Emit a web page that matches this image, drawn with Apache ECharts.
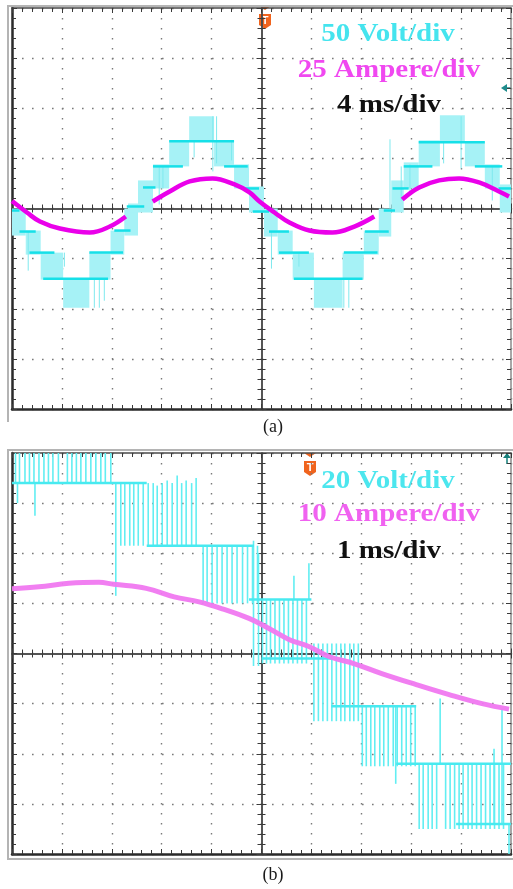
<!DOCTYPE html>
<html>
<head>
<meta charset="utf-8">
<script src="https://cdn.jsdelivr.net/npm/echarts@6/dist/echarts.min.js"></script>
<style>
  html, body { margin: 0; padding: 0; background: #fff; width: 513px; height: 889px; overflow: hidden; }
  #pa { position: absolute; left: 0; top: 0; width: 513px; height: 445px; }
  #pb { position: absolute; left: 0; top: 445px; width: 513px; height: 444px; }
</style>
</head>
<body>
<div id="pa"></div>
<div id="pb"></div>
<script>
// ===== Panel (a): 50 V/div, 25 A/div, 4 ms/div — time in ms, centred on the trigger =====
const axisA = { t: [-20, 20, 4], v: [-200, 200, 50], a: [-100, 100, 25] };
const labelsA = ['50 Volt/div', '25 Ampere/div', '4 ms/div'];

// PWM regions between adjacent voltage levels: [t0, t1, vLow, vHigh]
const bandsA = [
  [-20.0, -18.9, -27, 0], [-18.9, -17.7, -46, -22], [-17.7, -15.9, -71, -44], [-15.9, -13.8, -99, -70],
  [-13.8, -12.1, -71, -44], [-12.1, -11.0, -46, -22], [-11.0, -9.9, -27, 0],
  [-10.7, -9.9, -4, 5],
  [-9.9, -8.7, -4, 28], [-8.7, -7.4, 20, 44], [-7.4, -5.8, 42, 68], [-5.8, -3.8, 67, 92],
  [-3.8, -2.2, 42, 67], [-2.2, -1.0, 20, 44], [-1.0, 0.2, -4, 22],
  [0.2, 1.3, -28, 0], [1.3, 2.5, -46, -22], [2.5, 4.2, -71, -44], [4.2, 6.5, -99, -70],
  [6.5, 8.2, -71, -44], [8.2, 9.4, -46, -22], [9.4, 10.4, -28, 0],
  [10.4, 11.4, -4, 28], [11.4, 12.6, 20, 46], [12.6, 14.3, 42, 68], [14.3, 16.3, 67, 93],
  [16.3, 17.9, 42, 67], [17.9, 19.1, 20, 44], [19.1, 20.0, -4, 24]
];
// Dominant voltage levels: [t0, t1, v]
const levelsA = [
  [-20.0, -19.4, -2], [-19.4, -18.1, -23], [-18.6, -16.6, -44], [-17.5, -12.3, -70],
  [-13.8, -11.1, -44], [-11.8, -10.5, -22], [-10.8, -9.4, 2], [-9.5, -8.5, 21],
  [-8.7, -6.3, 42], [-7.4, -2.2, 67], [-3.0, -1.1, 42], [-1.6, -0.2, 20],
  [-0.7, 0.6, -3], [0.6, 2.2, -23], [1.4, 3.8, -44], [2.6, 8.1, -70],
  [6.6, 9.3, -44], [8.3, 10.2, -23], [9.8, 10.7, -2], [10.5, 11.8, 20],
  [11.4, 13.7, 42], [12.6, 17.9, 66], [17.1, 19.3, 42], [19.0, 20.0, 20]
];
// Isolated switching spikes: [t, vFrom, vTo]
const spikesA = [
  [-18.7, -23, -62], [-15.8, -44, -58], [-13.4, -70, -99], [-13.0, -70, -99], [-12.6, -70, -92],
  [-8.2, 42, 4], [-7.9, 42, 20], [-5.4, 67, 51], [-3.9, 92, 37], [-3.6, 92, 45], [-2.4, 67, 48],
  [0.8, -23, -60], [3.0, -44, -58], [6.6, -70, -99], [7.0, -70, -99],
  [10.3, 0, 69], [11.2, 42, 8], [11.9, 44, 14], [14.6, 67, 45], [16.0, 92, 40], [18.5, 42, 8]
];
// Load current [t, A]; null marks where the trace is hidden
const currentA = [
  [-20.0, 3.7], [-18.8, -2], [-17.76, -6.5], [-16.16, -10], [-13.76, -12], [-12.16, -9], [-10.88, -4],
  [-9.8, null],
  [-8.72, 3.5], [-7.36, 8.5], [-5.76, 13.5], [-3.92, 15], [-2.16, 12], [-0.96, 8], [-0.16, 3.5],
  [1.04, -2], [2.24, -7], [3.84, -11], [5.68, -12], [7.44, -9], [9.04, -4],
  [10.2, null],
  [11.28, 4.5], [12.64, 10.5], [14.24, 14], [15.84, 15], [17.44, 13], [19.04, 8.5], [19.84, 6]
];

// ===== Panel (b): 20 V/div, 10 A/div, 1 ms/div =====
const axisB = { t: [-5, 5, 1], v: [-80, 80, 20], a: [-40, 40, 10] };
const labelsB = ['20 Volt/div', '10 Ampere/div', '1 ms/div'];

const levelsB = [
  [-5.0, -2.3, 68], [-2.3, -0.15, 43], [-0.25, 1.0, 21.5], [0.0, 1.4, -2],
  [1.4, 3.1, -21], [2.7, 5.0, -44], [3.9, 5.0, -68]
];
const spikesB = [
  // 68 V level, pulses reaching the top edge
  [-4.93, 68, 80], [-4.85, 68, 80], [-4.74, 68, 80], [-4.65, 68, 80], [-4.56, 68, 80],
  [-4.46, 68, 80], [-4.36, 68, 80], [-4.27, 68, 80], [-4.18, 68, 80], [-4.07, 68, 80],
  [-3.89, 68, 80], [-3.80, 68, 80], [-3.71, 68, 80], [-3.62, 68, 80], [-3.52, 68, 80],
  [-3.42, 68, 80], [-3.32, 68, 80], [-3.22, 68, 80], [-3.13, 68, 80], [-3.02, 68, 80],
  [-4.89, 68, 60], [-4.54, 68, 55],
  // 68 V -> 43 V
  [-2.92, 68, 23], [-2.82, 68, 43], [-2.74, 68, 43], [-2.64, 68, 43], [-2.56, 68, 43], [-2.47, 68, 43], [-2.37, 68, 43],
  // 43 V -> 68 V
  [-2.27, 43, 68], [-2.17, 43, 68], [-2.09, 43, 67], [-1.99, 43, 68], [-1.89, 43, 69], [-1.79, 43, 68],
  [-1.69, 43, 71], [-1.60, 43, 68], [-1.51, 43, 69], [-1.40, 43, 68], [-1.31, 43, 70],
  // 43 V -> 20 V
  [-1.17, 43, 20], [-1.09, 43, 20], [-0.99, 43, 20], [-0.89, 43, 20], [-0.79, 43, 20], [-0.69, 43, 20],
  [-0.59, 43, 20], [-0.49, 43, 20], [-0.38, 43, 20], [-0.28, 43, 20], [-0.18, 43, 20], [-0.08, 43, 20],
  [-0.16, 45, -5], [-0.06, 40, -5],
  // 21.5 V -> 0 V
  [0.02, 21.5, -4], [0.10, 21.5, -4], [0.18, 21.5, -4], [0.27, 21.5, -4], [0.36, 21.5, -4], [0.45, 21.5, -4],
  [0.54, 21.5, -4], [0.63, 21.5, -4], [0.72, 21.5, -4], [0.81, 21.5, -4], [0.90, 21.5, -4],
  [0.65, 21.5, 31], [0.95, 21.5, 36],
  // 0 V -> -21 V
  [1.05, 4, -27], [1.14, 4, -27], [1.23, 4, -27], [1.32, 4, -27], [1.41, 4, -27], [1.50, 4, -27],
  [1.59, 4, -27], [1.67, 4, -27], [1.77, 4, -27], [1.85, 4, -27], [1.94, 4, -27],
  // -21 V -> -44 V
  [2.02, -21, -45], [2.10, -21, -45], [2.19, -21, -45], [2.27, -21, -45], [2.37, -21, -45], [2.45, -21, -45],
  [2.54, -21, -45], [2.64, -21, -45], [2.72, -21, -45], [2.81, -21, -45], [2.90, -21, -45], [2.99, -21, -45],
  [3.08, -21, -45], [2.69, -21, -52],
  // -44 V -> -68 V
  [3.16, -44, -70], [3.24, -44, -70], [3.34, -44, -70], [3.42, -44, -70], [3.51, -44, -70], [3.69, -44, -70],
  [3.78, -44, -70], [3.87, -44, -70], [3.96, -44, -70], [4.04, -44, -70], [4.14, -44, -70], [4.22, -44, -70],
  [4.31, -44, -70], [4.40, -44, -70], [4.49, -44, -70], [4.58, -44, -70], [4.67, -44, -70], [4.76, -44, -70],
  [4.85, -44, -70],
  [3.58, -44, -18], [4.66, -68, -38], [4.82, -68, -22], [4.96, -68, -80]
];
const currentB = [
  [-5.0, 12.9], [-4.46, 13.3], [-3.86, 14.0], [-3.26, 14.2], [-2.96, 13.8], [-2.31, 13.0],
  [-1.75, 11.3], [-1.25, 10.3], [-0.75, 8.8], [-0.25, 7.0], [0.15, 5.0], [0.55, 2.8],
  [0.95, 1.4], [1.35, -0.6], [1.85, -2.0], [2.41, -4.0], [3.10, -6.2], [3.76, -8.2],
  [4.42, -10.0], [4.96, -11.1]
];

// ---------- drawing helpers ----------
function bandRender(fill) {
  return function (params, api) {
    const p0 = api.coord([api.value(0), api.value(3)]);
    const p1 = api.coord([api.value(1), api.value(2)]);
    return { type: 'rect', shape: { x: p0[0], y: p0[1], width: p1[0] - p0[0], height: p1[1] - p0[1] },
             style: { fill: fill } };
  };
}
function levelRender(stroke, width) {
  return function (params, api) {
    const p0 = api.coord([api.value(0), api.value(2)]);
    const p1 = api.coord([api.value(1), api.value(2)]);
    return { type: 'line', shape: { x1: p0[0], y1: p0[1], x2: p1[0], y2: p1[1] },
             style: { stroke: stroke, lineWidth: width } };
  };
}
function spikeRender(stroke, width) {
  return function (params, api) {
    const p0 = api.coord([api.value(0), api.value(1)]);
    const p1 = api.coord([api.value(0), api.value(2)]);
    return { type: 'line', shape: { x1: p0[0], y1: p0[1], x2: p1[0], y2: p1[1] },
             style: { stroke: stroke, lineWidth: width } };
  };
}

function textItem(str, x, y, color) {
  return { type: 'text', x: x, y: y, scaleX: 1.16, silent: true, z: 20,
    style: { text: str, x: 0, y: 0, fill: color, align: 'center', verticalAlign: 'middle',
             font: 'bold 25px "Liberation Serif", "Times New Roman", serif' } };
}
function trigMarker(cx, top) {
  return { type: 'group', x: cx, y: top, silent: true, z: 20, children: [
    { type: 'polygon', shape: { points: [[-6, 0], [6, 0], [0, 4]] }, style: { fill: '#f0641e' } },
    { type: 'polygon', shape: { points: [[-6, 8], [6, 8], [6, 19], [0, 23], [-6, 19]] }, style: { fill: '#f0641e' } },
    { type: 'text', style: { text: 'T', x: 0, y: 15, fill: '#fff', align: 'center', verticalAlign: 'middle',
      font: 'bold 11px "Liberation Sans", sans-serif' } }
  ] };
}

function frameAxis(range, position, onZero, showSplit, lineColor, lineWidth, tickLen) {
  const ax = {
    type: 'value', min: range[0], max: range[1], interval: range[2], position: position,
    axisLabel: { show: false },
    axisLine: { show: true, onZero: onZero, lineStyle: { color: lineColor, width: lineWidth } },
    axisTick: { show: true, inside: true, length: tickLen, lineStyle: { color: '#3a3a3a', width: 1 } },
    minorTick: { show: true, splitNumber: 5, length: tickLen - 1, lineStyle: { color: '#3a3a3a', width: 1 } },
    splitLine: { show: showSplit, lineStyle: { color: '#7a7a7a', width: 1.4, type: [1.6, 8.4] } }
  };
  if (onZero) ax.axisLine.onZeroAxisIndex = 0;
  return ax;
}

function buildPanel(cfg) {
  const grid = { left: 12, top: 8, width: 499, height: 401 };
  const xAxis = [
    frameAxis(cfg.axis.t, 'bottom', false, true, '#2a2a2a', 2.5, 5),
    frameAxis(cfg.axis.t, 'top', false, false, '#4a4a4a', 1.5, 5),
    frameAxis(cfg.axis.t, 'bottom', true, false, '#4a4a4a', 1.5, 5),
    frameAxis(cfg.axis.t, 'top', true, false, '#4a4a4a', 1.5, 5)
  ];
  const yAxis = [
    frameAxis(cfg.axis.v, 'left', false, true, '#2a2a2a', 2.5, 5),
    frameAxis(cfg.axis.a, 'right', false, false, '#8a8a8a', 1.5, 5),
    frameAxis(cfg.axis.v, 'left', true, false, '#4a4a4a', 1.5, 5),
    frameAxis(cfg.axis.v, 'right', true, false, '#4a4a4a', 1.5, 5)
  ];
  const series = [];
  if (cfg.bands) {
    series.push({ type: 'custom', xAxisIndex: 0, yAxisIndex: 0, data: cfg.bands, clip: true, silent: true, z: 3,
      encode: { x: [0, 1], y: [2, 3] }, renderItem: bandRender(cfg.bandColor) });
  }
  series.push({ type: 'custom', xAxisIndex: 0, yAxisIndex: 0, data: cfg.spikes, clip: true, silent: true, z: 4,
    encode: { x: 0, y: [1, 2] }, renderItem: spikeRender(cfg.spikeColor, cfg.spikeWidth) });
  series.push({ type: 'custom', xAxisIndex: 0, yAxisIndex: 0, data: cfg.levels, clip: true, silent: true, z: 5,
    encode: { x: [0, 1], y: 2 }, renderItem: levelRender(cfg.levelColor, cfg.levelWidth) });
  series.push({ type: 'line', xAxisIndex: 0, yAxisIndex: 1, data: cfg.current, smooth: 0.4, showSymbol: false,
    connectNulls: false, silent: true, z: 6,
    lineStyle: { color: cfg.currentColor, width: cfg.currentWidth, opacity: cfg.currentOpacity } });

  const g = cfg.gfx;
  const graphic = [
    { type: 'polyline', silent: true, z: 1,
      shape: { points: g.outer },
      style: { stroke: '#b4b4b4', lineWidth: 2, fill: null } },
    textItem(cfg.labels[0], 388, g.labelY[0], cfg.voltTextColor),
    textItem(cfg.labels[1], 389, g.labelY[1], cfg.ampTextColor),
    textItem(cfg.labels[2], 389, g.labelY[2], '#111'),
    trigMarker(g.trigX, g.trigTop),
    g.levelMark,
    { type: 'text', silent: true, z: 20,
      style: { text: cfg.caption, x: 273, y: g.captionY, fill: '#1a1a1a', align: 'center', verticalAlign: 'middle',
               font: '18px "Liberation Serif", "Times New Roman", serif' } }
  ];
  return { animation: false, backgroundColor: '#fff', grid: grid, xAxis: xAxis, yAxis: yAxis,
           series: series, graphic: graphic };
}

const chartA = echarts.init(document.getElementById('pa'));
chartA.setOption(buildPanel({
  axis: axisA, labels: labelsA, caption: '(a)',
  bands: bandsA, levels: levelsA, spikes: spikesA, current: currentA,
  bandColor: '#a6f2f6', spikeColor: '#7fe9ee', spikeWidth: 1,
  levelColor: '#16e0e8', levelWidth: 2.5,
  currentColor: '#ea00ea', currentWidth: 4.5, currentOpacity: 1,
  voltTextColor: '#45e4ee', ampTextColor: '#f048f0',
  gfx: {
    outer: [[8, 422], [8, 6], [513, 6]],
    labelY: [35, 71, 106], trigX: 265, trigTop: 6, captionY: 427,
    levelMark: { type: 'group', silent: true, z: 20, children: [
      { type: 'polygon', shape: { points: [[501, 88], [507, 84], [507, 92]] }, style: { fill: '#1e8c8c' } },
      { type: 'line', shape: { x1: 507, y1: 88, x2: 511, y2: 88 }, style: { stroke: '#1e8c8c', lineWidth: 1.5 } }
    ] }
  }
}));

const chartB = echarts.init(document.getElementById('pb'));
chartB.setOption(buildPanel({
  axis: axisB, labels: labelsB, caption: '(b)',
  bands: null, levels: levelsB, spikes: spikesB, current: currentB,
  spikeColor: '#62eef2', spikeWidth: 1.6,
  levelColor: '#48eaf0', levelWidth: 2.5,
  currentColor: '#f078f0', currentWidth: 5, currentOpacity: 0.95,
  voltTextColor: '#4ce6ee', ampTextColor: '#f062f0',
  gfx: {
    outer: [[513, 414], [8, 414], [8, 5], [513, 5]],
    labelY: [37, 70, 107], trigX: 310, trigTop: 8, captionY: 430,
    levelMark: { type: 'group', silent: true, z: 20, children: [
      { type: 'polygon', shape: { points: [[507, 8], [503, 13], [511, 13]] }, style: { fill: '#167f7a' } },
      { type: 'line', shape: { x1: 507, y1: 13, x2: 507, y2: 19 }, style: { stroke: '#167f7a', lineWidth: 1.5 } }
    ] }
  }
}));
</script>
</body>
</html>
